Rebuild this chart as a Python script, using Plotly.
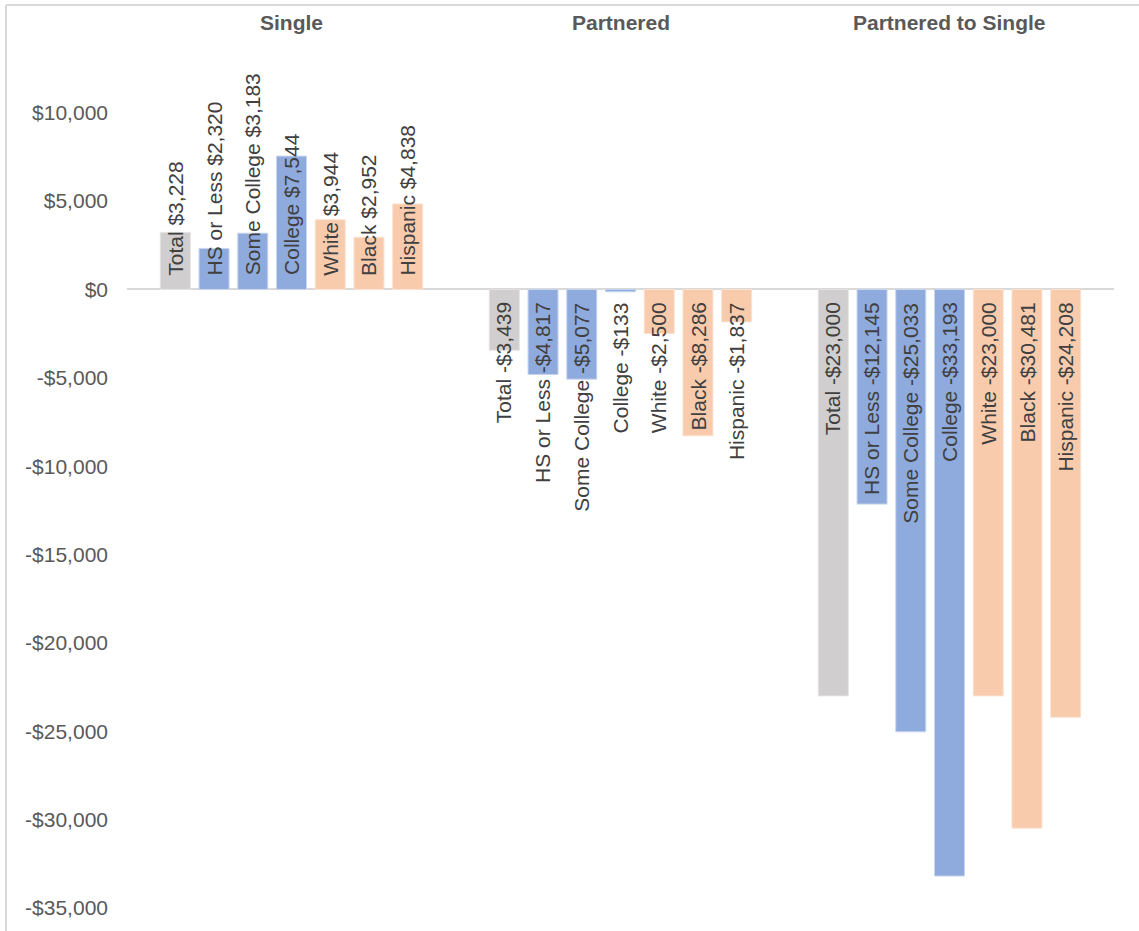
import plotly.graph_objects as go

groups = ["Single", "Partnered", "Partnered to Single"]
series = ["Total", "HS or Less", "Some College", "College", "White", "Black", "Hispanic"]
values = {
    "Total":        [3228, -3439, -23000],
    "HS or Less":   [2320, -4817, -12145],
    "Some College": [3183, -5077, -25033],
    "College":      [7544, -133, -33193],
    "White":        [3944, -2500, -23000],
    "Black":        [2952, -8286, -30481],
    "Hispanic":     [4838, -1837, -24208],
}
colors = {
    "Total": "#D0CECE",
    "HS or Less": "#8FAADC", "Some College": "#8FAADC", "College": "#8FAADC",
    "White": "#F8CBAD", "Black": "#F8CBAD", "Hispanic": "#F8CBAD",
}
border = {
    "Total": "#E4E3E3",
    "HS or Less": "#C9D6EE", "Some College": "#C9D6EE", "College": "#C9D6EE",
    "White": "#FBE2D2", "Black": "#FBE2D2", "Hispanic": "#FBE2D2",
}
ytickvals = [10000, 5000, 0, -5000, -10000, -15000, -20000, -25000, -30000, -35000]
yticktext = ["$10,000", "$5,000", "$0", "-$5,000", "-$10,000", "-$15,000",
             "-$20,000", "-$25,000", "-$30,000", "-$35,000"]

def money(v):
    s = "${:,}".format(abs(v))
    return ("-" + s) if v < 0 else s

FONT = "Liberation Sans, Arial, sans-serif"
bargap = 0.176
bargroupgap = 0.225

fig = go.Figure()
for s in series:
    fig.add_trace(go.Bar(
        name=s, x=groups, y=values[s],
        marker=dict(color=colors[s], line=dict(color=border[s], width=1)),
        showlegend=False, hoverinfo="skip",
    ))

n = len(series)
slot = (1 - bargap) / n
annotations = []
for gi, g in enumerate(groups):
    annotations.append(dict(
        x=gi, y=1, xref="x", yref="paper", text=f"<b>{g}</b>", showarrow=False,
        xanchor="center", yanchor="middle", yshift=20,
        font=dict(family=FONT, size=21, color="#595959"),
    ))
    for si, s in enumerate(series):
        v = values[s][gi]
        xpos = gi - (1 - bargap) / 2 + (si + 0.5) * slot
        annotations.append(dict(
            x=xpos, y=0, xref="x", yref="y",
            text=f"{s} {money(v)}", textangle=-90, showarrow=False,
            xanchor="center", yanchor="bottom" if v >= 0 else "top",
            yshift=12 if v >= 0 else -11,
            font=dict(family=FONT, size=21, color="#404040"),
        ))

# chart border (light gray), partially outside visible area
shapes = [
    dict(type="line", xref="paper", yref="paper", x0=-0.1226, x1=-0.1226, y0=-0.2, y1=1.0427,
         line=dict(color="#D9D9D9", width=2)),
    dict(type="line", xref="paper", yref="paper", x0=-0.1226, x1=1.1, y0=1.0427, y1=1.0427,
         line=dict(color="#D9D9D9", width=2)),
]

fig.update_layout(
    width=1139, height=931,
    margin=dict(l=127, r=25, t=42, b=23),
    paper_bgcolor="white", plot_bgcolor="white",
    barmode="group", bargap=bargap, bargroupgap=bargroupgap,
    font=dict(family=FONT, size=21, color="#595959"),
    annotations=annotations, shapes=shapes,
    xaxis=dict(showline=False, showgrid=False, ticks="", showticklabels=False),
    yaxis=dict(range=[-35000, 14000], tickvals=ytickvals, ticktext=yticktext,
               showgrid=False, showline=False, zeroline=True, zerolinecolor="#D9D9D9",
               zerolinewidth=2, ticks="", ticklabelstandoff=18,
               tickfont=dict(family=FONT, size=21, color="#595959")),
)

fig.write_html("out.html")
